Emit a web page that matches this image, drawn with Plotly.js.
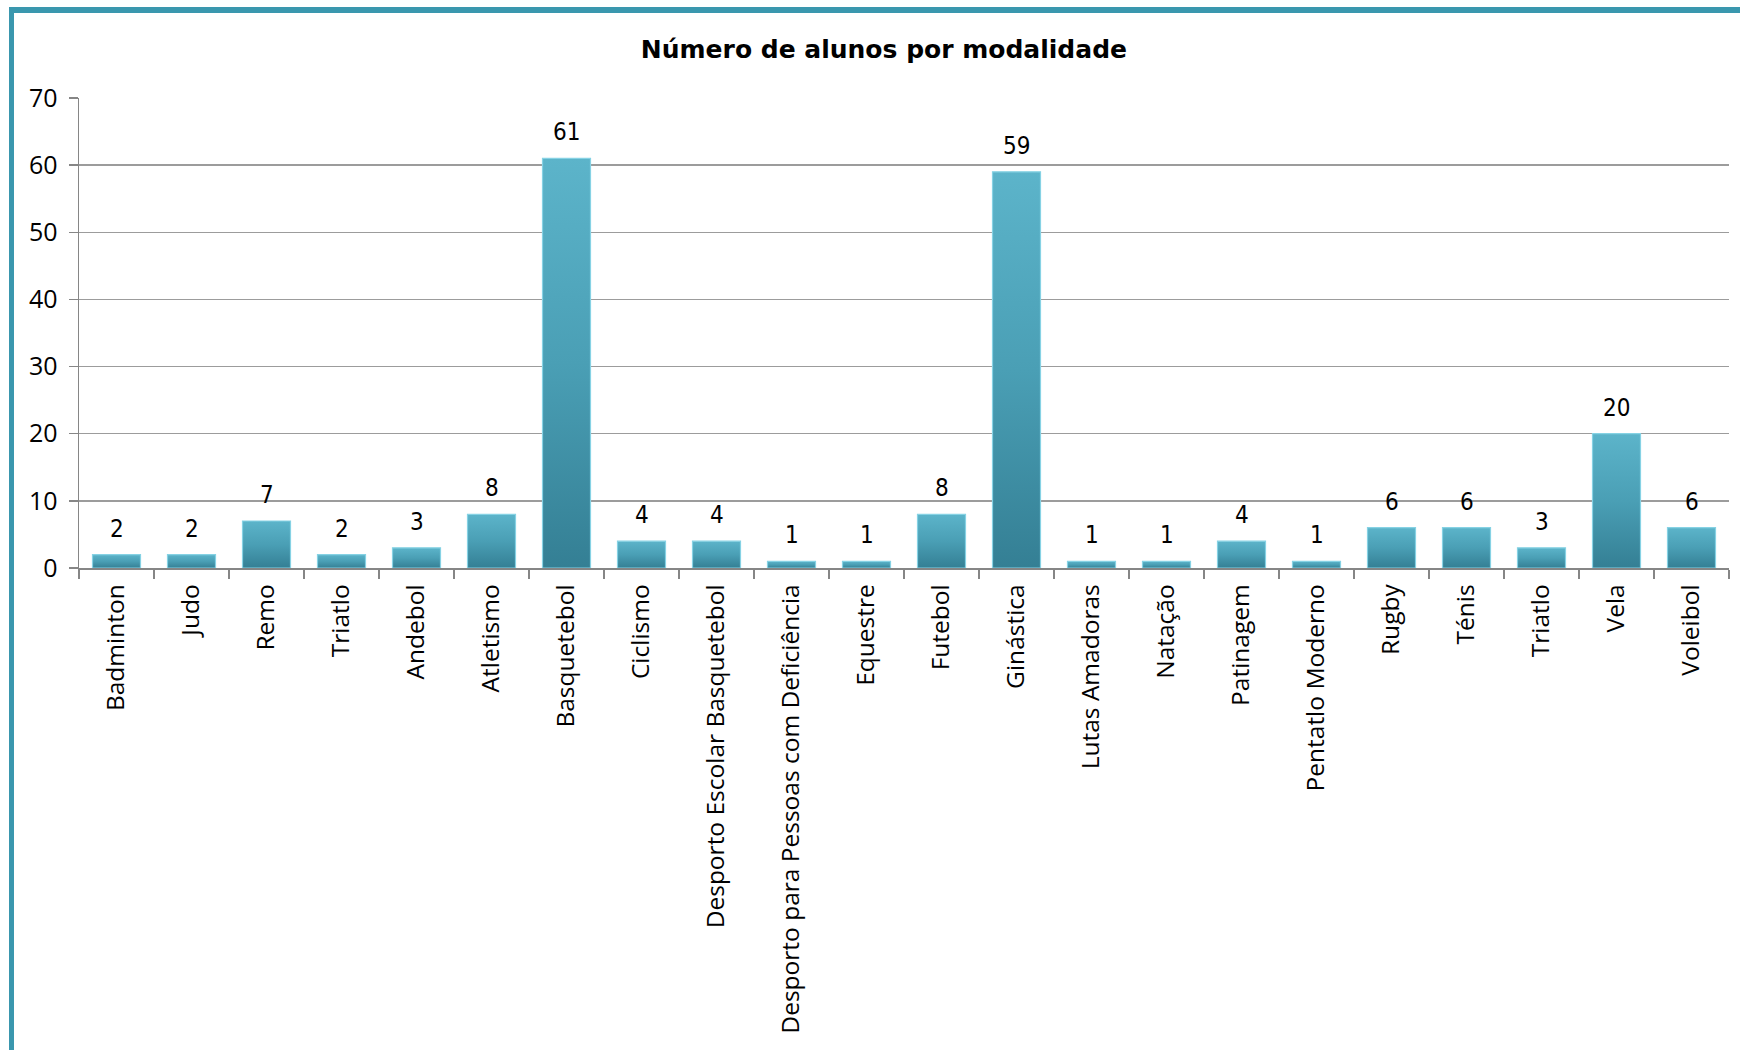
<!DOCTYPE html>
<html>
<head>
<meta charset="utf-8">
<script src="https://cdn.plot.ly/plotly-3.0.1.min.js"></script>
<style>
  html, body { margin: 0; padding: 0; background: #ffffff; }
  #frame { position: absolute; left: 9px; top: 7px; width: 1731px; height: 1043px;
           border-left: 5px solid #3a97ae; border-top: 6px solid #3a97ae; box-sizing: border-box; }
  #chart { position: absolute; left: 0; top: 0; width: 1740px; height: 1050px; }
</style>
</head>
<body>
<div id="frame"></div>
<div id="chart"></div>
<script>
const categories = [
  "Badminton", "Judo", "Remo", "Triatlo", "Andebol", "Atletismo", "Basquetebol",
  "Ciclismo", "Desporto Escolar Basquetebol", "Desporto para Pessoas com Deficiência",
  "Equestre", "Futebol", "Ginástica", "Lutas Amadoras", "Natação", "Patinagem",
  "Pentatlo Moderno", "Rugby", "Ténis", "Triatlo", "Vela", "Voleibol"
];
const alunos = [2, 2, 7, 2, 3, 8, 61, 4, 4, 1, 1, 8, 59, 1, 1, 4, 1, 6, 6, 3, 20, 6];
const yTicks = [0, 10, 20, 30, 40, 50, 60, 70];
const chartTitle = "Número de alunos por modalidade";

// Make repeated category names unique (invisible zero-width suffix) so they stay separate bars
const seen = {};
const keys = categories.map(c => {
  seen[c] = (seen[c] || 0) + 1;
  return c + "\u200b".repeat(seen[c] - 1);
});

const trace = {
  type: "bar",
  x: keys,
  y: alunos,
  marker: { color: "#4aa2b8", line: { color: "#86d2e4", width: 1.2 } },
  hoverinfo: "x+y"
};

const annotations = keys.map((k, i) => ({
  x: k, y: alunos[i], text: String(alunos[i]),
  showarrow: false, yanchor: "bottom", xanchor: "center", yshift: 10,
  font: { family: "Liberation Sans Narrow, DejaVu Sans Condensed, Arial Narrow, sans-serif", size: 24, color: "#000000" }
}));

const layout = {
  width: 1740, height: 1050,
  paper_bgcolor: "rgba(0,0,0,0)",
  plot_bgcolor: "rgba(0,0,0,0)",
  margin: { l: 79, r: 11, t: 98, b: 482 },
  showlegend: false,
  bargap: 0.36,
  title: {
    text: "<b>" + chartTitle + "</b>",
    font: { family: "DejaVu Sans, sans-serif", size: 25, color: "#000000" },
    xref: "container", yref: "container", x: 0.508, y: 0.9535, xanchor: "center", yanchor: "middle"
  },
  xaxis: {
    type: "category",
    range: [-0.5, keys.length - 0.5],
    tickson: "boundaries",
    ticks: "outside", ticklen: 9, tickcolor: "#868686", tickwidth: 1.5,
    showline: true, linecolor: "#868686", linewidth: 1.5,
    showgrid: false,
    tickangle: -90,
    ticklabelstandoff: 5,
    tickfont: { family: "Open Sans, Noto Sans, sans-serif", size: 24.5, color: "#000000" },
    automargin: false
  },
  yaxis: {
    range: [0, 70],
    tickvals: yTicks,
    ticktext: yTicks.map(String),
    ticks: "outside", ticklen: 9, tickcolor: "#868686", tickwidth: 1.5,
    showline: true, linecolor: "#868686", linewidth: 1.5,
    showgrid: true, gridcolor: "#9c9c9c", gridwidth: 1.5,
    zeroline: false,
    ticklabelstandoff: 6,
    tickfont: { family: "Open Sans, Noto Sans, sans-serif", size: 25, color: "#000000" },
    automargin: false
  },
  annotations: annotations
};

Plotly.newPlot("chart", [trace], layout, { displayModeBar: false, staticPlot: true }).then(gd => {
  const svg = gd.querySelector("svg.main-svg");
  const ns = "http://www.w3.org/2000/svg";
  let defs = svg.querySelector("defs");
  if (!defs) { defs = document.createElementNS(ns, "defs"); svg.insertBefore(defs, svg.firstChild); }
  const grad = document.createElementNS(ns, "linearGradient");
  grad.setAttribute("id", "barGrad");
  grad.setAttribute("x1", "0"); grad.setAttribute("y1", "0");
  grad.setAttribute("x2", "0"); grad.setAttribute("y2", "1");
  [["0", "#5cb4ca"], ["0.5", "#4a9fb5"], ["1", "#347f94"]].forEach(([o, c]) => {
    const s = document.createElementNS(ns, "stop");
    s.setAttribute("offset", o); s.setAttribute("stop-color", c);
    grad.appendChild(s);
  });
  defs.appendChild(grad);
  gd.querySelectorAll(".trace.bars .point path").forEach(p => {
    p.style.fill = "url(#barGrad)";
  });
});
</script>
</body>
</html>
